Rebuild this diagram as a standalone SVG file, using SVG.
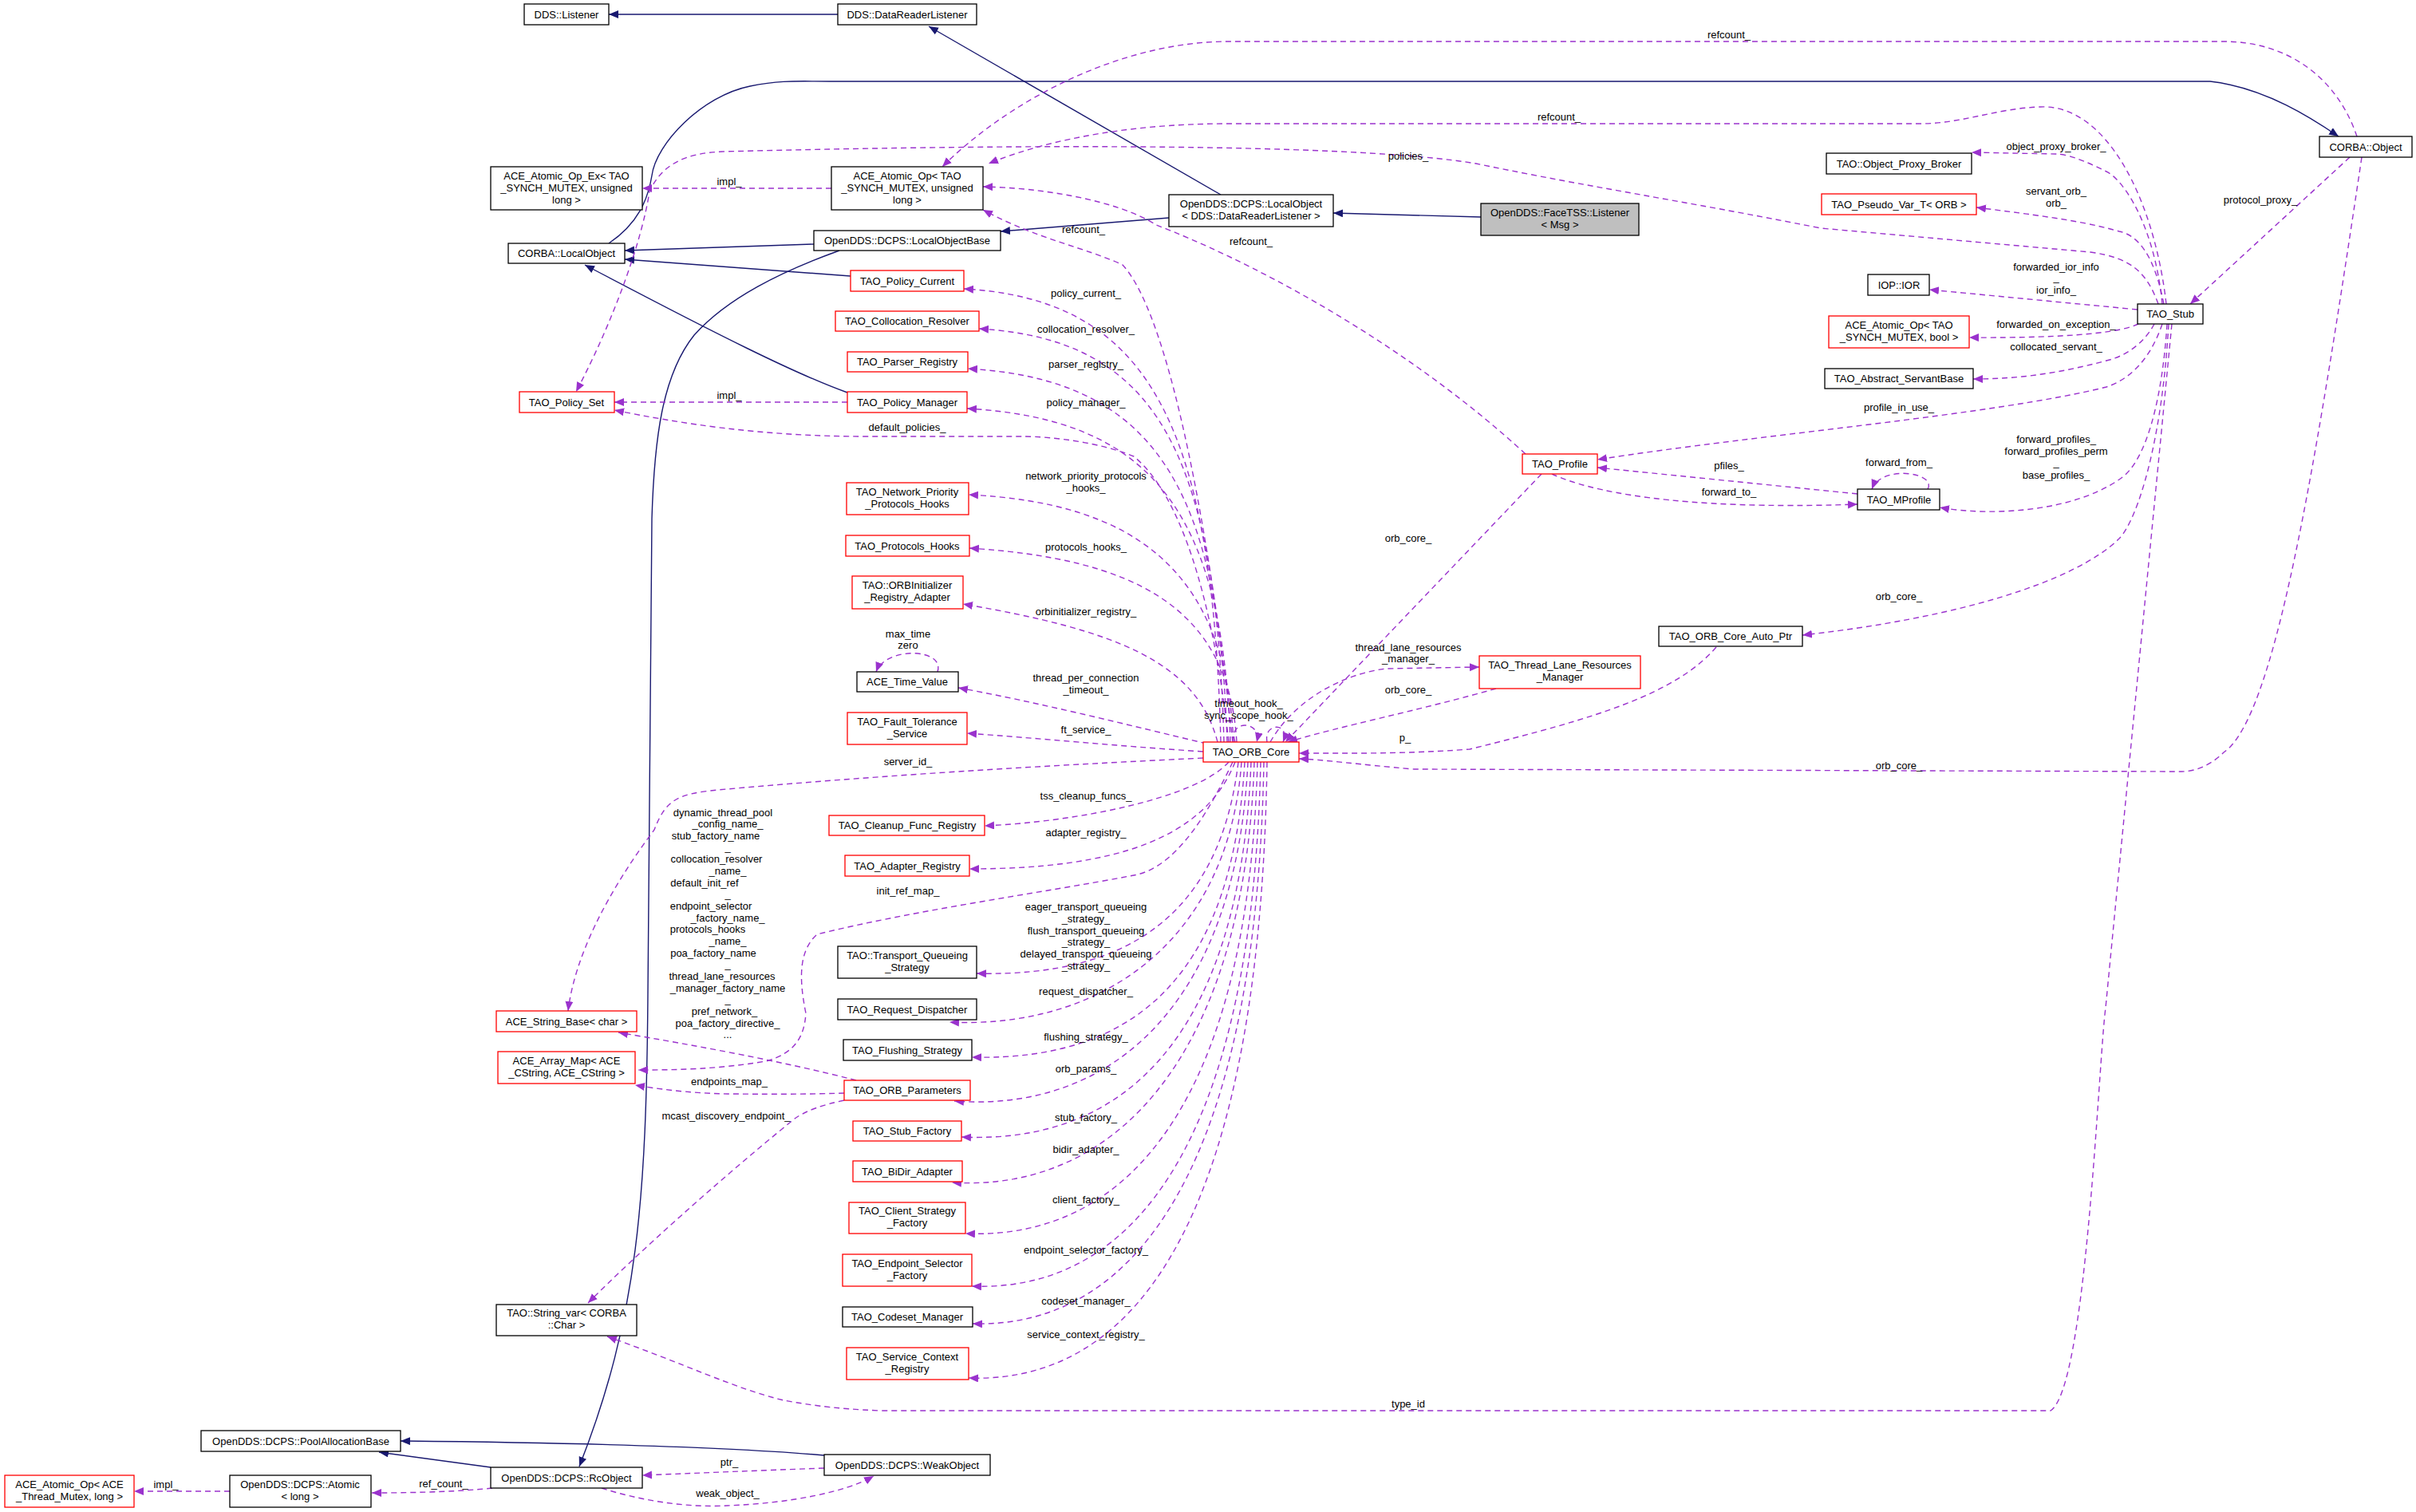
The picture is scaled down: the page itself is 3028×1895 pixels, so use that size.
<svg xmlns="http://www.w3.org/2000/svg" width="3028" height="1895" viewBox="0 0 3028 1895">
<style>
text{font-family:"Liberation Sans",Arial,sans-serif;font-size:13px;fill:#000}
.n rect{fill:#fff;stroke:#000;stroke-width:1.3}
.r rect{stroke:#ff0000}
.g rect{fill:#bfbfbf}
.n text{text-anchor:middle}
.e path{fill:none}
.i{stroke:#191970;stroke-width:1.4;marker-end:url(#ai)}
.u{stroke:#9a32cd;stroke-width:1.4;stroke-dasharray:7,5;marker-end:url(#au)}
.l text{text-anchor:middle}
</style>
<defs>
<marker id="ai" markerUnits="userSpaceOnUse" markerWidth="14" markerHeight="12" refX="12" refY="5" orient="auto"><path d="M0,0 L12,5 L0,10 z" fill="#191970"/></marker>
<marker id="au" markerUnits="userSpaceOnUse" markerWidth="14" markerHeight="12" refX="12" refY="5" orient="auto"><path d="M0,0 L12,5 L0,10 z" fill="#9a32cd"/></marker>
</defs>
<rect width="3028" height="1895" fill="#fff"/>
<g id="edges" class="e">
<path class="i" d="M1050,18 L763,18"/>
<path class="i" d="M1530,244 L1164,33"/>
<path class="i" d="M1465,273 L1254,290"/>
<path class="i" d="M1856,272 L1671,267"/>
<path class="i" d="M1020,306 L783,314"/>
<path class="i" d="M1066,346 L783,325"/>
<path class="i" d="M1062,492 C1000,470 900,420 733,332"/>
<path class="i" d="M763,305 C800,280 812,250 817,220 C822,180 880,120 940,108 C980,100 1000,102 1040,102 L2770,102 C2840,110 2900,150 2931,171"/>
<path class="i" d="M1052,314 C980,340 912,373 870,420 C830,470 820,550 817,650 L812,1245 C810,1500 800,1650 726,1838"/>
<path class="i" d="M615,1839 L475,1820"/>
<path class="i" d="M1033,1824 C900,1812 700,1808 502,1806"/>
<path class="u" d="M1042,236 L805,236"/>
<path class="u" d="M2954,171 C2930,100 2870,52 2787,52 L1540,52 C1400,52 1260,130 1181,209"/>
<path class="u" d="M2715,381 C2700,250 2640,130 2557,134 C2500,136 2460,155 2406,155 L1540,155 C1400,155 1300,180 1239,205"/>
<path class="u" d="M2705,381 C2690,340 2670,323 2620,316 L2282,286 C2100,250 2000,236 1850,205 C1700,180 1300,180 905,190 C860,192 830,205 814,240 C805,300 770,400 722,491"/>
<path class="u" d="M1912,569 C1750,420 1550,320 1449,282 C1400,250 1300,235 1232,234"/>
<path class="u" d="M1545,930 C1520,700 1470,400 1407,332 C1360,310 1300,300 1232,263"/>
<path class="u" d="M1062,504 L770,504"/>
<path class="u" d="M1540,930 C1520,750 1480,620 1421,572 C1380,555 1320,547 1281,547 L1087,547 C950,547 850,530 770,514"/>
<path class="u" d="M1530,930 C1520,532 1440,375 1208,362"/>
<path class="u" d="M1534,930 C1524,567 1450,425 1227,412"/>
<path class="u" d="M1538,930 C1528,602 1440,475 1213,462"/>
<path class="u" d="M1542,930 C1532,637 1440,525 1212,512"/>
<path class="u" d="M1546,930 C1536,713 1420,630 1214,620"/>
<path class="u" d="M1550,930 C1540,760 1420,700 1215,687"/>
<path class="u" d="M1526,930 C1500,830 1400,790 1207,757"/>
<path class="u" d="M1512,932 C1420,910 1300,880 1201,862"/>
<path class="u" d="M1175,842 C1185,812 1110,810 1098,842"/>
<path class="u" d="M1508,942 C1400,935 1300,925 1212,919"/>
<path class="u" d="M1548,930 C1538,902 1582,902 1575,930"/>
<path class="u" d="M1588,930 C1583,905 1618,905 1608,930"/>
<path class="u" d="M1508,950 C1300,960 1100,972 900,990 C850,995 835,1001 820,1040 C760,1120 720,1200 712,1267"/>
<path class="u" d="M1540,955 C1500,1000 1350,1030 1234,1035"/>
<path class="u" d="M1548,955 C1510,1050 1400,1089 1215,1089"/>
<path class="u" d="M1545,955 C1500,1050 1460,1090 1421,1097 C1300,1120 1150,1140 1024,1171 C1003,1190 1000,1221 1010,1270 C1008,1300 996,1320 960,1330 C900,1340 850,1341 800,1341"/>
<path class="u" d="M1552,955 C1530,1140 1420,1225 1224,1220"/>
<path class="u" d="M1556,955 C1540,1180 1380,1290 1190,1281"/>
<path class="u" d="M1560,955 C1545,1215 1430,1330 1218,1325"/>
<path class="u" d="M1564,955 C1550,1250 1400,1395 1196,1380"/>
<path class="u" d="M1568,955 C1555,1285 1420,1435 1205,1425"/>
<path class="u" d="M1572,955 C1560,1320 1400,1495 1193,1482"/>
<path class="u" d="M1576,955 C1565,1370 1420,1555 1210,1546"/>
<path class="u" d="M1580,955 C1570,1415 1430,1620 1218,1612"/>
<path class="u" d="M1584,955 C1575,1450 1430,1665 1219,1659"/>
<path class="u" d="M1588,955 C1580,1495 1440,1735 1214,1727"/>
<path class="u" d="M1932,594 L1611,930"/>
<path class="u" d="M1592,930 C1620,880 1680,845 1737,838 L1854,836"/>
<path class="u" d="M1875,863 C1780,890 1680,910 1614,930"/>
<path class="u" d="M2151,811 C2100,870 2000,900 1842,939 C1760,945 1700,944 1628,944"/>
<path class="u" d="M2960,197 C2900,600 2850,900 2787,943 C2770,960 2750,967 2734,967 L1772,964 C1700,958 1660,952 1628,951"/>
<path class="u" d="M2945,197 L2745,381"/>
<path class="u" d="M2710,381 C2700,280 2660,224 2640,215 C2610,200 2590,193 2577,193 L2471,191"/>
<path class="u" d="M2712,381 C2700,320 2680,295 2656,290 C2620,280 2590,274 2477,260"/>
<path class="u" d="M2679,388 L2418,363"/>
<path class="u" d="M2680,406 C2660,416 2600,424 2468,423"/>
<path class="u" d="M2700,406 C2690,425 2670,445 2640,452 C2580,468 2530,475 2473,475"/>
<path class="u" d="M2710,406 C2695,450 2670,475 2640,485 C2500,520 2200,545 2002,576"/>
<path class="u" d="M2716,406 C2710,500 2690,580 2656,601 C2600,640 2500,648 2431,636"/>
<path class="u" d="M2328,619 L2002,586"/>
<path class="u" d="M1945,594 C1990,615 2100,640 2328,632"/>
<path class="u" d="M2416,613 C2428,592 2358,582 2346,613"/>
<path class="u" d="M2718,406 C2710,550 2680,650 2656,675 C2600,730 2450,775 2259,796"/>
<path class="u" d="M2722,406 L2639,1263 C2630,1330 2615,1740 2570,1768 L1105,1768 C1040,1766 1000,1758 982,1755 C920,1740 860,1710 761,1675"/>
<path class="u" d="M1073,1354 C980,1330 870,1310 775,1294"/>
<path class="u" d="M1058,1370 C1000,1372 930,1371 912,1371 C860,1370 820,1364 796,1360"/>
<path class="u" d="M1058,1379 C1030,1385 1010,1392 996,1402 C900,1480 800,1570 737,1633"/>
<path class="u" d="M754,1865 C800,1880 860,1890 912,1887 C990,1884 1060,1870 1095,1850"/>
<path class="u" d="M1033,1840 C950,1843 880,1846 805,1849"/>
<path class="u" d="M617,1865 C580,1869 530,1871 466,1871"/>
<path class="u" d="M288,1869 L168,1869"/>
</g>
<g id="labels" class="l">
<text x="914" y="232">impl_</text>
<text x="914" y="500">impl_</text>
<text x="1137" y="540">default_policies_</text>
<text x="1954" y="151">refcount_</text>
<text x="2167" y="48">refcount_</text>
<text x="1765" y="200">policies_</text>
<text x="1358" y="292">refcount_</text>
<text x="1568" y="307">refcount_</text>
<text x="1361" y="372">policy_current_</text>
<text x="1361" y="417">collocation_resolver_</text>
<text x="1361" y="461">parser_registry_</text>
<text x="1361" y="509">policy_manager_</text>
<text x="1361" y="601">network_priority_protocols</text>
<text x="1361" y="616">_hooks_</text>
<text x="1361" y="690">protocols_hooks_</text>
<text x="1361" y="771">orbinitializer_registry_</text>
<text x="1138" y="799">max_time</text>
<text x="1138" y="813">zero</text>
<text x="1361" y="854">thread_per_connection</text>
<text x="1361" y="869">_timeout_</text>
<text x="1565" y="886">timeout_hook_</text>
<text x="1565" y="901">sync_scope_hook_</text>
<text x="1361" y="919">ft_service_</text>
<text x="1138" y="959">server_id_</text>
<text x="1361" y="1002">tss_cleanup_funcs_</text>
<text x="1361" y="1048">adapter_registry_</text>
<text x="1138" y="1121">init_ref_map_</text>
<text x="1361" y="1141">eager_transport_queueing</text>
<text x="1361" y="1156">_strategy_</text>
<text x="1361" y="1171">flush_transport_queueing</text>
<text x="1361" y="1185">_strategy_</text>
<text x="1361" y="1200">delayed_transport_queueing</text>
<text x="1361" y="1215">_strategy_</text>
<text x="1361" y="1247">request_dispatcher_</text>
<text x="1361" y="1304">flushing_strategy_</text>
<text x="1361" y="1344">orb_params_</text>
<text x="1361" y="1405">stub_factory_</text>
<text x="1361" y="1445">bidir_adapter_</text>
<text x="1361" y="1508">client_factory_</text>
<text x="1361" y="1571">endpoint_selector_factory_</text>
<text x="1361" y="1635">codeset_manager_</text>
<text x="1361" y="1677">service_context_registry_</text>
<text x="1765" y="679">orb_core_</text>
<text x="1765" y="816">thread_lane_resources</text>
<text x="1765" y="830">_manager_</text>
<text x="1765" y="869">orb_core_</text>
<text x="1761" y="929">p_</text>
<text x="2380" y="752">orb_core_</text>
<text x="2380" y="964">orb_core_</text>
<text x="2833" y="255">protocol_proxy_</text>
<text x="2577" y="188">object_proxy_broker_</text>
<text x="2577" y="244">servant_orb_</text>
<text x="2577" y="259">orb_</text>
<text x="2577" y="339">forwarded_ior_info</text>
<text x="2577" y="352">_</text>
<text x="2577" y="368">ior_info_</text>
<text x="2577" y="411">forwarded_on_exception_</text>
<text x="2577" y="439">collocated_servant_</text>
<text x="2380" y="515">profile_in_use_</text>
<text x="2577" y="555">forward_profiles_</text>
<text x="2577" y="570">forward_profiles_perm</text>
<text x="2577" y="584">_</text>
<text x="2577" y="600">base_profiles_</text>
<text x="2380" y="584">forward_from_</text>
<text x="2167" y="588">pfiles_</text>
<text x="2167" y="621">forward_to_</text>
<text x="1765" y="1764">type_id</text>
<text x="914" y="1360">endpoints_map_</text>
<text x="910" y="1403">mcast_discovery_endpoint_</text>
<text x="914" y="1837">ptr_</text>
<text x="556" y="1864">ref_count_</text>
<text x="912" y="1876">weak_object_</text>
<text x="208" y="1865">impl_</text>
<text x="906" y="1023">dynamic_thread_pool</text>
<text x="912" y="1037">_config_name_</text>
<text x="897" y="1052">stub_factory_name</text>
<text x="912" y="1066">_</text>
<text x="898" y="1081">collocation_resolver</text>
<text x="912" y="1096">_name_</text>
<text x="883" y="1111">default_init_ref</text>
<text x="912" y="1125">_</text>
<text x="891" y="1140">endpoint_selector</text>
<text x="912" y="1155">_factory_name_</text>
<text x="887" y="1169">protocols_hooks</text>
<text x="912" y="1184">_name_</text>
<text x="894" y="1199">poa_factory_name</text>
<text x="912" y="1213">_</text>
<text x="905" y="1228">thread_lane_resources</text>
<text x="912" y="1243">_manager_factory_name</text>
<text x="912" y="1257">_</text>
<text x="908" y="1272">pref_network_</text>
<text x="912" y="1287">poa_factory_directive_</text>
<text x="912" y="1301">...</text>
</g>
<g id="n1" class="n"><rect x="657" y="5" width="106" height="26"/><text x="710" y="23">DDS::Listener</text></g>
<g id="n2" class="n"><rect x="1050" y="5" width="174" height="26"/><text x="1137" y="23">DDS::DataReaderListener</text></g>
<g id="n3" class="n"><rect x="615" y="209" width="190" height="54"/><text x="710" y="225">ACE_Atomic_Op_Ex&lt; TAO</text><text x="710" y="240">_SYNCH_MUTEX, unsigned</text><text x="710" y="255">long &gt;</text></g>
<g id="n4" class="n"><rect x="637" y="305" width="146" height="25"/><text x="710" y="322">CORBA::LocalObject</text></g>
<g id="n5" class="n r"><rect x="651" y="491" width="119" height="26"/><text x="710" y="509">TAO_Policy_Set</text></g>
<g id="n6" class="n"><rect x="1042" y="209" width="190" height="54"/><text x="1137" y="225">ACE_Atomic_Op&lt; TAO</text><text x="1137" y="240">_SYNCH_MUTEX, unsigned</text><text x="1137" y="255">long &gt;</text></g>
<g id="n7" class="n"><rect x="1020" y="289" width="234" height="25"/><text x="1137" y="306">OpenDDS::DCPS::LocalObjectBase</text></g>
<g id="n8" class="n"><rect x="1465" y="244" width="206" height="40"/><text x="1568" y="260">OpenDDS::DCPS::LocalObject</text><text x="1568" y="275">&lt; DDS::DataReaderListener &gt;</text></g>
<g id="n9" class="n g"><rect x="1856" y="255" width="198" height="40"/><text x="1955" y="271">OpenDDS::FaceTSS::Listener</text><text x="1955" y="286">&lt; Msg &gt;</text></g>
<g id="n10" class="n r"><rect x="1066" y="339" width="142" height="26"/><text x="1137" y="357">TAO_Policy_Current</text></g>
<g id="n11" class="n r"><rect x="1047" y="390" width="180" height="25"/><text x="1137" y="407">TAO_Collocation_Resolver</text></g>
<g id="n12" class="n r"><rect x="1062" y="441" width="151" height="25"/><text x="1137" y="458">TAO_Parser_Registry</text></g>
<g id="n13" class="n r"><rect x="1062" y="491" width="150" height="26"/><text x="1137" y="509">TAO_Policy_Manager</text></g>
<g id="n14" class="n r"><rect x="1061" y="605" width="153" height="40"/><text x="1137" y="621">TAO_Network_Priority</text><text x="1137" y="636">_Protocols_Hooks</text></g>
<g id="n15" class="n r"><rect x="1908" y="569" width="94" height="25"/><text x="1955" y="586">TAO_Profile</text></g>
<g id="n16" class="n"><rect x="2907" y="171" width="116" height="26"/><text x="2965" y="189">CORBA::Object</text></g>
<g id="n17" class="n"><rect x="2289" y="192" width="182" height="26"/><text x="2380" y="210">TAO::Object_Proxy_Broker</text></g>
<g id="n18" class="n r"><rect x="2283" y="243" width="194" height="26"/><text x="2380" y="261">TAO_Pseudo_Var_T&lt; ORB &gt;</text></g>
<g id="n19" class="n"><rect x="2341" y="344" width="77" height="26"/><text x="2380" y="362">IOP::IOR</text></g>
<g id="n20" class="n"><rect x="2679" y="381" width="82" height="25"/><text x="2720" y="398">TAO_Stub</text></g>
<g id="n21" class="n r"><rect x="2292" y="396" width="176" height="40"/><text x="2380" y="412">ACE_Atomic_Op&lt; TAO</text><text x="2380" y="427">_SYNCH_MUTEX, bool &gt;</text></g>
<g id="n22" class="n"><rect x="2287" y="462" width="186" height="25"/><text x="2380" y="479">TAO_Abstract_ServantBase</text></g>
<g id="n23" class="n"><rect x="2328" y="613" width="103" height="26"/><text x="2380" y="631">TAO_MProfile</text></g>
<g id="n24" class="n r"><rect x="1060" y="671" width="155" height="26"/><text x="1137" y="689">TAO_Protocols_Hooks</text></g>
<g id="n25" class="n r"><rect x="1068" y="722" width="139" height="41"/><text x="1137" y="738">TAO::ORBInitializer</text><text x="1137" y="753">_Registry_Adapter</text></g>
<g id="n26" class="n"><rect x="1074" y="842" width="127" height="25"/><text x="1137" y="859">ACE_Time_Value</text></g>
<g id="n27" class="n r"><rect x="1062" y="893" width="150" height="40"/><text x="1137" y="909">TAO_Fault_Tolerance</text><text x="1137" y="924">_Service</text></g>
<g id="n28" class="n r"><rect x="1508" y="930" width="120" height="25"/><text x="1568" y="947">TAO_ORB_Core</text></g>
<g id="n29" class="n r"><rect x="1854" y="822" width="202" height="41"/><text x="1955" y="838">TAO_Thread_Lane_Resources</text><text x="1955" y="853">_Manager</text></g>
<g id="n30" class="n r"><rect x="1039" y="1022" width="195" height="25"/><text x="1137" y="1039">TAO_Cleanup_Func_Registry</text></g>
<g id="n31" class="n r"><rect x="1059" y="1072" width="156" height="26"/><text x="1137" y="1090">TAO_Adapter_Registry</text></g>
<g id="n32" class="n"><rect x="1050" y="1186" width="174" height="40"/><text x="1137" y="1202">TAO::Transport_Queueing</text><text x="1137" y="1217">_Strategy</text></g>
<g id="n33" class="n"><rect x="1050" y="1252" width="174" height="26"/><text x="1137" y="1270">TAO_Request_Dispatcher</text></g>
<g id="n34" class="n"><rect x="1057" y="1303" width="161" height="26"/><text x="1137" y="1321">TAO_Flushing_Strategy</text></g>
<g id="n35" class="n r"><rect x="1058" y="1354" width="158" height="25"/><text x="1137" y="1371">TAO_ORB_Parameters</text></g>
<g id="n36" class="n r"><rect x="1069" y="1405" width="136" height="25"/><text x="1137" y="1422">TAO_Stub_Factory</text></g>
<g id="n37" class="n r"><rect x="1069" y="1455" width="137" height="26"/><text x="1137" y="1473">TAO_BiDir_Adapter</text></g>
<g id="n38" class="n r"><rect x="1064" y="1507" width="146" height="39"/><text x="1137" y="1522">TAO_Client_Strategy</text><text x="1137" y="1537">_Factory</text></g>
<g id="n39" class="n r"><rect x="1056" y="1572" width="162" height="40"/><text x="1137" y="1588">TAO_Endpoint_Selector</text><text x="1137" y="1603">_Factory</text></g>
<g id="n40" class="n"><rect x="1056" y="1638" width="163" height="25"/><text x="1137" y="1655">TAO_Codeset_Manager</text></g>
<g id="n41" class="n r"><rect x="1061" y="1689" width="153" height="40"/><text x="1137" y="1705">TAO_Service_Context</text><text x="1137" y="1720">_Registry</text></g>
<g id="n42" class="n"><rect x="2079" y="785" width="180" height="25"/><text x="2169" y="802">TAO_ORB_Core_Auto_Ptr</text></g>
<g id="n43" class="n r"><rect x="622" y="1267" width="176" height="26"/><text x="710" y="1285">ACE_String_Base&lt; char &gt;</text></g>
<g id="n44" class="n r"><rect x="624" y="1318" width="172" height="40"/><text x="710" y="1334">ACE_Array_Map&lt; ACE</text><text x="710" y="1349">_CString, ACE_CString &gt;</text></g>
<g id="n45" class="n"><rect x="622" y="1635" width="176" height="39"/><text x="710" y="1650">TAO::String_var&lt; CORBA</text><text x="710" y="1665">::Char &gt;</text></g>
<g id="n46" class="n"><rect x="252" y="1793" width="250" height="26"/><text x="377" y="1811">OpenDDS::DCPS::PoolAllocationBase</text></g>
<g id="n47" class="n"><rect x="615" y="1839" width="190" height="26"/><text x="710" y="1857">OpenDDS::DCPS::RcObject</text></g>
<g id="n48" class="n r"><rect x="6" y="1849" width="162" height="40"/><text x="87" y="1865">ACE_Atomic_Op&lt; ACE</text><text x="87" y="1880">_Thread_Mutex, long &gt;</text></g>
<g id="n49" class="n"><rect x="288" y="1849" width="177" height="40"/><text x="376" y="1865">OpenDDS::DCPS::Atomic</text><text x="376" y="1880">&lt; long &gt;</text></g>
<g id="n50" class="n"><rect x="1033" y="1823" width="208" height="26"/><text x="1137" y="1841">OpenDDS::DCPS::WeakObject</text></g>
</svg>
